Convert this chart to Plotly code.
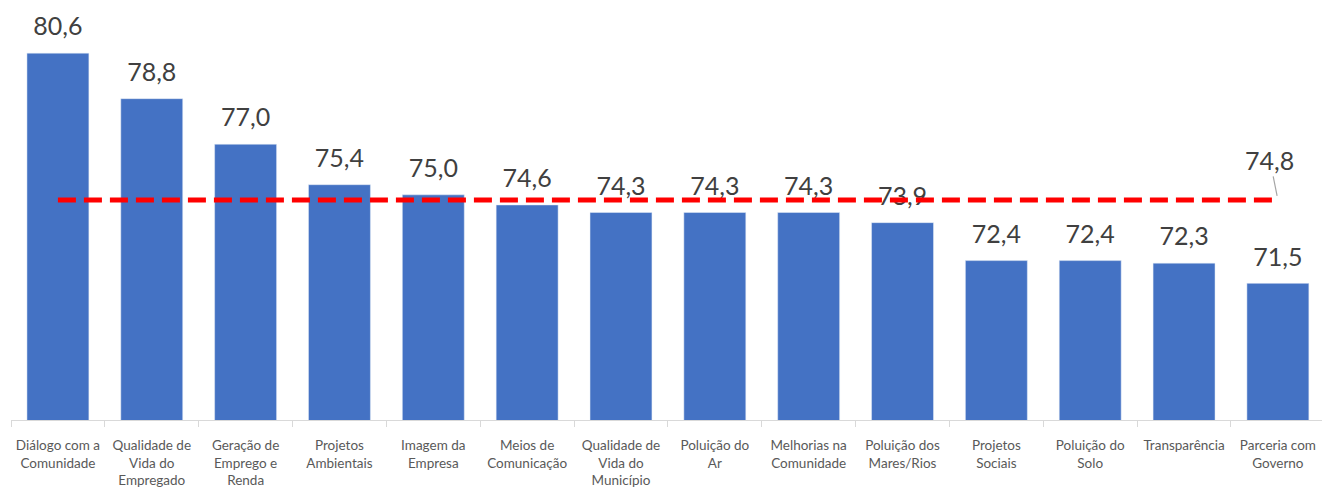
import plotly.graph_objects as go

categories = ["Diálogo com a<br>Comunidade", "Qualidade de<br>Vida do<br>Empregado",
              "Geração de<br>Emprego e<br>Renda", "Projetos<br>Ambientais",
              "Imagem da<br>Empresa", "Meios de<br>Comunicação",
              "Qualidade de<br>Vida do<br>Município", "Poluição do<br>Ar",
              "Melhorias na<br>Comunidade", "Poluição dos<br>Mares/Rios",
              "Projetos<br>Sociais", "Poluição do<br>Solo", "Transparência",
              "Parceria com<br>Governo"]
values = [80.6, 78.8, 77.0, 75.4, 75.0, 74.6, 74.3, 74.3, 74.3, 73.9, 72.4, 72.4, 72.3, 71.5]
average = 74.8

def fmt(v):
    return f"{v:.1f}".replace(".", ",")

y_min, y_max = 66.1, 82.7
plot_h = 420
ppu = plot_h / (y_max - y_min)
label_off = 24 / ppu
FONT = "Lato, sans-serif"

fig = go.Figure()
fig.add_trace(go.Bar(x=categories, y=values, marker_color="#4472C4", width=0.66,
                     hoverinfo="skip"))
fig.add_trace(go.Scatter(x=categories, y=[v + label_off for v in values], mode="text",
                         text=[fmt(v) for v in values], textposition="middle center",
                         textfont=dict(size=25, color="#404040", family=FONT),
                         hoverinfo="skip"))
fig.add_trace(go.Scatter(x=categories, y=[average] * len(categories), mode="lines",
                         line=dict(color="#FF0000", width=5, dash="18px,8px"),
                         hoverinfo="skip"))
fig.add_annotation(x=categories[-1], y=average, text=fmt(average), showarrow=True,
                   arrowhead=0, arrowcolor="#A6A6A6", arrowwidth=1.2, ax=-8, ay=-40,
                   standoff=4, font=dict(size=25, color="#404040", family=FONT))

fig.update_layout(
    width=1322, height=489, showlegend=False,
    margin=dict(l=11, r=0, t=0, b=69),
    plot_bgcolor="white", paper_bgcolor="white",
    xaxis=dict(type="category", range=[-0.5, 13.47], showline=True, linecolor="#D9D9D9",
               linewidth=1, ticks="outside", tickson="boundaries", ticklen=6,
               tickcolor="#D9D9D9", tickangle=0, ticklabelstandoff=13,
               tickfont=dict(size=13.5, color="#595959", family=FONT)),
    yaxis=dict(range=[y_min, y_max], visible=False, showgrid=False),
)
fig.write_html("out.html", config={"displayModeBar": False},
               post_script="document.body.style.margin='0';")
